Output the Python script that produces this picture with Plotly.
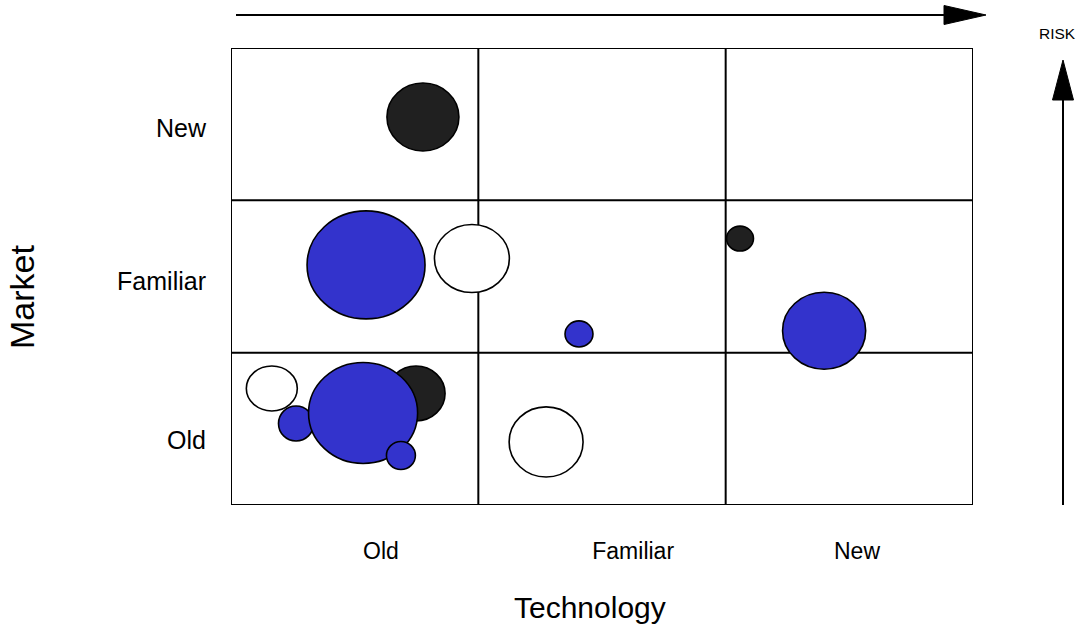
import plotly.graph_objects as go

# ---- data (cell units: 0..3 on each axis) ----
tech_labels = ["Old", "Familiar", "New"]
tech_label_pos = [0.606, 1.626, 2.531]
market_labels = ["Old", "Familiar", "New"]
market_label_pos = [0.427, 1.47, 2.475]

bubble_x = [0.776, 0.546, 0.974, 2.058, 2.398, 1.407, 1.274, 0.165, 0.748, 0.263, 0.534, 0.687]
bubble_y = [2.547, 1.576, 1.618, 1.749, 1.144, 1.123, 0.414, 0.765, 0.732, 0.535, 0.604, 0.325]
bubble_w = [0.291, 0.477, 0.303, 0.109, 0.336, 0.113, 0.299, 0.206, 0.235, 0.142, 0.441, 0.117]
bubble_h = [0.446, 0.709, 0.446, 0.164, 0.505, 0.171, 0.460, 0.295, 0.361, 0.230, 0.663, 0.184]
bubble_kind = ["black", "blue", "white", "black", "blue", "blue", "white",
               "white", "black", "blue", "blue", "blue"]

fill_map = {"black": "#202020", "blue": "#3333CC", "white": "#FFFFFF"}

W, H = 1084, 634
L, R, T, B = 231, 973, 48, 505


def px(x):
    return (x - L) / (R - L)


def py(y):
    return (B - y) / (B - T)


fig = go.Figure()
# invisible trace to establish axes
fig.add_trace(go.Scatter(x=[0, 3], y=[0, 3], mode="markers",
                         marker=dict(opacity=0), hoverinfo="skip", showlegend=False))

shapes = []
# bubbles
for x, y, w, h, k in zip(bubble_x, bubble_y, bubble_w, bubble_h, bubble_kind):
    shapes.append(dict(type="circle", xref="x", yref="y",
                       x0=x - w / 2, x1=x + w / 2, y0=y - h / 2, y1=y + h / 2,
                       fillcolor=fill_map[k], line=dict(color="black", width=1.6),
                       layer="above"))
# grid
shapes.append(dict(type="rect", xref="x", yref="y", x0=0, x1=3, y0=0, y1=3,
                   line=dict(color="black", width=2), layer="below"))
for v in [1, 2]:
    shapes.append(dict(type="line", xref="x", yref="y", x0=v, x1=v, y0=0, y1=3,
                       line=dict(color="black", width=2), layer="below"))
    shapes.append(dict(type="line", xref="x", yref="y", x0=0, x1=3, y0=v, y1=v,
                       line=dict(color="black", width=2), layer="below"))

# risk arrows
shapes.append(dict(type="line", xref="paper", yref="paper",
                   x0=px(236), x1=px(946), y0=py(15), y1=py(15),
                   line=dict(color="black", width=2)))
shapes.append(dict(type="path", xref="paper", yref="paper",
                   path=f"M {px(944)} {py(5.5)} L {px(986)} {py(15)} L {px(944)} {py(24.5)} Z",
                   fillcolor="black", line=dict(color="black", width=1)))
shapes.append(dict(type="line", xref="paper", yref="paper",
                   x0=px(1063), x1=px(1063), y0=py(505), y1=py(98),
                   line=dict(color="black", width=2)))
shapes.append(dict(type="path", xref="paper", yref="paper",
                   path=f"M {px(1052.5)} {py(100)} L {px(1063)} {py(60)} L {px(1073.5)} {py(100)} Z",
                   fillcolor="black", line=dict(color="black", width=1)))

font = "Liberation Sans, Arial, sans-serif"
annotations = [
    dict(text="Technology", xref="paper", yref="paper", x=px(590), y=py(607),
         xanchor="center", yanchor="middle", showarrow=False,
         font=dict(family=font, size=30, color="black")),
    dict(text="Market", xref="paper", yref="paper", x=px(22), y=py(297),
         xanchor="center", yanchor="middle", showarrow=False, textangle=-90,
         font=dict(family=font, size=34, color="black")),
    dict(text="RISK", xref="paper", yref="paper", x=px(1057), y=py(33),
         xanchor="center", yanchor="middle", showarrow=False,
         font=dict(family=font, size=15.5, color="black")),
]

fig.update_layout(
    width=W, height=H,
    margin=dict(l=L, r=W - R, t=T, b=H - B, pad=0),
    paper_bgcolor="white", plot_bgcolor="white",
    shapes=shapes, annotations=annotations, showlegend=False,
    xaxis=dict(range=[0, 3], showgrid=False, zeroline=False, showline=False,
               tickvals=tech_label_pos, ticktext=tech_labels, ticks="",
               ticklabelstandoff=30,
               tickfont=dict(family=font, size=23, color="black"), fixedrange=True),
    yaxis=dict(range=[0, 3], showgrid=False, zeroline=False, showline=False,
               tickvals=market_label_pos, ticktext=market_labels, ticks="",
               ticklabelstandoff=24,
               tickfont=dict(family=font, size=25, color="black"), fixedrange=True),
)

fig.write_html("out.html")
